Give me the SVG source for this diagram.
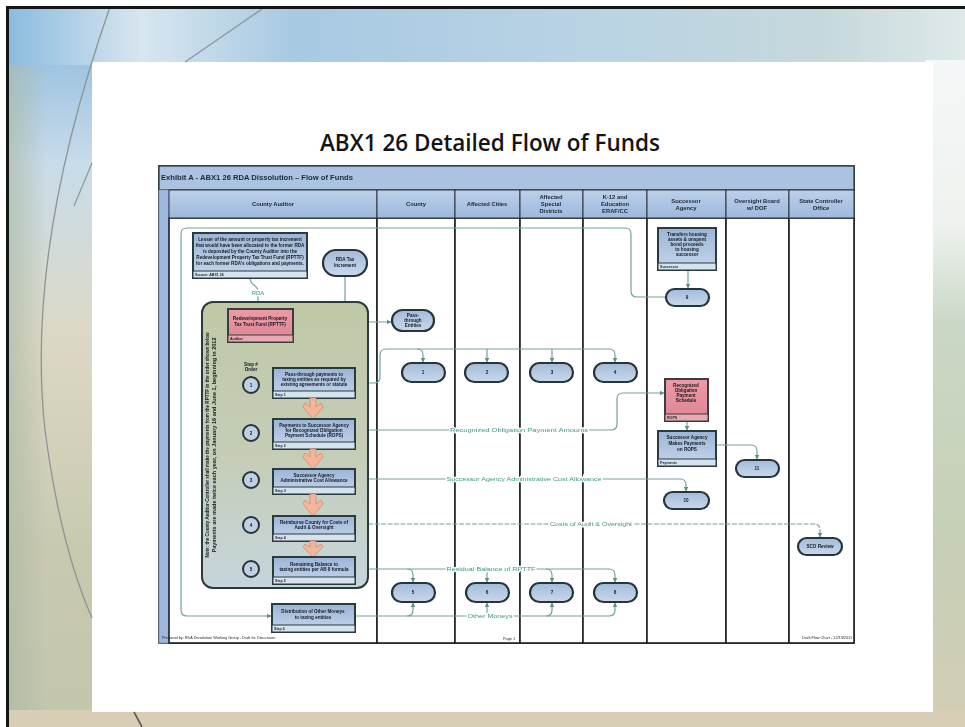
<svg xmlns="http://www.w3.org/2000/svg" width="965" height="727" viewBox="0 0 965 727">
  <defs>
    <linearGradient id="leftG" x1="0" y1="0" x2="0" y2="1">
      <stop offset="0" stop-color="#86b6dc"/>
      <stop offset="0.22" stop-color="#c9dcea"/>
      <stop offset="0.45" stop-color="#dcd8c6"/>
      <stop offset="0.75" stop-color="#c9c9b0"/>
      <stop offset="1" stop-color="#c3c5ad"/>
    </linearGradient>
    <linearGradient id="leftEdgeG" x1="0" y1="0" x2="1" y2="0">
      <stop offset="0" stop-color="#a9b9a4" stop-opacity="0.7"/>
      <stop offset="1" stop-color="#a9b9a4" stop-opacity="0"/>
    </linearGradient>
    <linearGradient id="topG" x1="0" y1="0" x2="1" y2="0">
      <stop offset="0" stop-color="#8bbadf"/>
      <stop offset="0.14" stop-color="#d7e6ef"/>
      <stop offset="0.3" stop-color="#a7c9e2"/>
      <stop offset="0.6" stop-color="#b9d3e4"/>
      <stop offset="0.85" stop-color="#c5d8dc"/>
      <stop offset="1" stop-color="#dfe9ea"/>
    </linearGradient>
    <linearGradient id="rightG" x1="0" y1="0" x2="0" y2="1">
      <stop offset="0" stop-color="#f4f7f7"/>
      <stop offset="0.25" stop-color="#eef2ee"/>
      <stop offset="0.4" stop-color="#cbd7c6"/>
      <stop offset="0.75" stop-color="#c6cfb5"/>
      <stop offset="1" stop-color="#d3ceb6"/>
    </linearGradient>
    <linearGradient id="hdrG" x1="0" y1="0" x2="0" y2="1">
      <stop offset="0" stop-color="#bcd0e9"/>
      <stop offset="1" stop-color="#9db9de"/>
    </linearGradient>
    <linearGradient id="boxG" x1="0" y1="0" x2="0" y2="1">
      <stop offset="0" stop-color="#9bb5d7"/>
      <stop offset="1" stop-color="#c6d6eb"/>
    </linearGradient>
    <linearGradient id="ovalG" x1="0" y1="0" x2="0" y2="1">
      <stop offset="0" stop-color="#a3bbd9"/>
      <stop offset="1" stop-color="#c8d8ec"/>
    </linearGradient>
    <linearGradient id="pinkG" x1="0" y1="0" x2="0" y2="1">
      <stop offset="0" stop-color="#ee9aa5"/>
      <stop offset="1" stop-color="#dc8593"/>
    </linearGradient>
    <linearGradient id="grpG" x1="0" y1="0" x2="0" y2="1">
      <stop offset="0" stop-color="#bfc8a6"/>
      <stop offset="0.55" stop-color="#c5cdb8"/>
      <stop offset="1" stop-color="#c6d5dc"/>
    </linearGradient>
    <!-- the printed chart is soft, so the chart layer gets a light blur -->
    <filter id="soft" x="-2%" y="-2%" width="104%" height="104%">
      <feGaussianBlur stdDeviation="0.4"/>
    </filter>
    <marker id="arr" viewBox="0 0 6 6" refX="5.5" refY="3" markerWidth="4" markerHeight="4" orient="auto">
      <path d="M0,0 L6,3 L0,6 z" fill="#5e8f87"/>
    </marker>
    <style>
      .lane{fill:#ffffff;stroke:#1d2224;stroke-width:1.6}
      .hdr{fill:url(#hdrG);stroke:#2a3338;stroke-width:1}
      .hdrt{font-family:"Liberation Sans",Arial,sans-serif;font-size:5.8px;font-weight:bold;fill:#1c2633;text-anchor:middle}
      .box{fill:url(#boxG);stroke:#2b3a3d;stroke-width:2}
      .pink{fill:url(#pinkG);stroke:#3b3e3f;stroke-width:2}
      .foot{fill:#d7e2ef;stroke:#2b3a3d;stroke-width:1}
      .pfoot{fill:#e9a9b2;stroke:#3b3e3f;stroke-width:1}
      .bt{font-family:"Liberation Sans",Arial,sans-serif;font-size:4.6px;font-weight:bold;fill:#141a20;text-anchor:middle}
      .ft{font-family:"Liberation Sans",Arial,sans-serif;font-size:3.6px;font-weight:bold;fill:#1a2228;text-anchor:start}
      .oval{fill:url(#ovalG);stroke:#27353a;stroke-width:2.2}
      .num{fill:#bfd0e3;stroke:#27353a;stroke-width:2}
      .conn{fill:none;stroke:#74a29a;stroke-width:1.2}
      .dash{stroke-dasharray:5 1.5}
      .lbl{font-family:"Liberation Sans",Arial,sans-serif;font-size:6px;fill:#3d9689;text-anchor:middle;stroke:#ffffff;stroke-width:2.5px;paint-order:stroke}
      .step{fill:#f3b59c;stroke:#d48a6c;stroke-width:0.8}
      .foottxt{font-family:"Liberation Sans",Arial,sans-serif;font-size:3.8px;fill:#1d2226}
    </style>
  </defs>

  <!-- slide background -->
  <g id="slide-background">
    <rect x="0" y="0" width="965" height="727" fill="#e6e1cf"/>
    <rect x="7" y="7" width="90" height="720" fill="url(#leftG)"/>
    <rect x="7" y="7" width="40" height="720" fill="url(#leftEdgeG)"/>
    <rect x="7" y="7" width="958" height="58" fill="url(#topG)"/>
    <rect x="925" y="60" width="40" height="660" fill="url(#rightG)"/>
    <rect x="7" y="710" width="958" height="17" fill="#d8cdb5"/>
    <rect x="92" y="62" width="841" height="650" fill="#ffffff"/>
    <path d="M110,7 Q25,250 45,430 Q60,545 92,618" fill="none" stroke="#8b9592" stroke-width="1.3"/>
    <path d="M262,9 L185,62" fill="none" stroke="#8f9a9c" stroke-width="1.5"/>
    <path d="M92,163 L74,206" fill="none" stroke="#8f9a9c" stroke-width="1.3"/>
    <path d="M134,712 L142,727" fill="none" stroke="#5a5a55" stroke-width="1.6"/>
    <rect x="0" y="0" width="965" height="6" fill="#ffffff"/>
    <rect x="0" y="0" width="6" height="727" fill="#ffffff"/>
    <line x1="6" y1="7.5" x2="965" y2="7.5" stroke="#141616" stroke-width="3"/>
    <line x1="7.5" y1="6" x2="7.5" y2="727" stroke="#141616" stroke-width="3"/>
  </g>

  <!-- slide title -->
  <text x="490" y="151" font-family="'Open Sans','Noto Sans',sans-serif" font-size="23" font-weight="600" fill="#141414" text-anchor="middle" textLength="340" lengthAdjust="spacingAndGlyphs">ABX1 26 Detailed Flow of Funds</text>

  <g id="chart" filter="url(#soft)">
  <!-- swimlane frame -->
  <g id="lanes">
    <rect x="159" y="166" width="695" height="477" fill="#ffffff" stroke="#2a3136" stroke-width="1.6"/>
    <rect x="159" y="166" width="695" height="24" fill="#a9c3e1" stroke="#2a3136" stroke-width="1.2"/>
    <text x="161" y="180" font-family="'Liberation Sans',Arial,sans-serif" font-size="7" font-weight="bold" fill="#1f2a35" textLength="192" lengthAdjust="spacingAndGlyphs">Exhibit A - ABX1 26 RDA Dissolution – Flow of Funds</text>
    <rect x="159" y="190" width="10" height="453" fill="#9db8dc" stroke="#6f87a8" stroke-width="0.6"/>
    <rect class="lane" x="169" y="218" width="208" height="425"/>
    <rect class="lane" x="377" y="218" width="78" height="425"/>
    <rect class="lane" x="455" y="218" width="65" height="425"/>
    <rect class="lane" x="520" y="218" width="63" height="425"/>
    <rect class="lane" x="583" y="218" width="64" height="425"/>
    <rect class="lane" x="647" y="218" width="79" height="425"/>
    <rect class="lane" x="726" y="218" width="63" height="425"/>
    <rect class="lane" x="789" y="218" width="65" height="425"/>
    <rect class="hdr" x="169" y="190" width="208" height="28"/>
    <rect class="hdr" x="377" y="190" width="78" height="28"/>
    <rect class="hdr" x="455" y="190" width="65" height="28"/>
    <rect class="hdr" x="520" y="190" width="63" height="28"/>
    <rect class="hdr" x="583" y="190" width="64" height="28"/>
    <rect class="hdr" x="647" y="190" width="79" height="28"/>
    <rect class="hdr" x="726" y="190" width="63" height="28"/>
    <rect class="hdr" x="789" y="190" width="65" height="28"/>
    <text class="hdrt" x="273" y="206">County Auditor</text>
    <text class="hdrt" x="416" y="206">County</text>
    <text class="hdrt" x="487" y="206">Affected Cities</text>
    <text class="hdrt" x="551" y="199">Affected</text>
    <text class="hdrt" x="551" y="206">Special</text>
    <text class="hdrt" x="551" y="213">Districts</text>
    <text class="hdrt" x="615" y="199">K-12 and</text>
    <text class="hdrt" x="615" y="206">Education</text>
    <text class="hdrt" x="615" y="213">ERAF/CC</text>
    <text class="hdrt" x="686" y="203">Successor</text>
    <text class="hdrt" x="686" y="210">Agency</text>
    <text class="hdrt" x="757" y="203">Oversight Board</text>
    <text class="hdrt" x="757" y="210">w/ DOF</text>
    <text class="hdrt" x="821" y="203">State Controller</text>
    <text class="hdrt" x="821" y="210">Office</text>
    <text class="foottxt" x="162" y="639">Prepared by: RDA Dissolution Working Group - Draft for Discussion</text>
    <text class="foottxt" x="503" y="640">Page 1</text>
    <text class="foottxt" x="852" y="639" text-anchor="end">Draft Flow Chart - 12/13/2011</text>
  </g>

  <!-- connectors -->
  <g id="connectors">
    <path class="conn" d="M666,297 H637 Q631,297 631,291 V234 Q631,228 625,228 H187 Q181,228 181,234 V610 Q181,616 187,616 H271" marker-end="url(#arr)"/>
    <path class="conn" d="M688,270 V288" marker-end="url(#arr)"/>
    <path class="conn" d="M250,278 C250,286 258,284 258,292 V308" marker-end="url(#arr)"/>
    <path class="conn" d="M345,276 V316 Q345,322 339,322"/>
    <path class="conn" d="M293,322 H391" marker-end="url(#arr)"/>
    <path class="conn" d="M313,322 V367" marker-end="url(#arr)"/>
    <path class="conn" d="M355,383 H374 Q380,383 380,377 V355 Q380,349 386,349 H609 Q615,349 615,355 V362" marker-end="url(#arr)"/>
    <path class="conn" d="M417,349 Q423,349 423,355 V362" marker-end="url(#arr)"/>
    <path class="conn" d="M487,349 V362" marker-end="url(#arr)"/>
    <path class="conn" d="M552,349 V362" marker-end="url(#arr)"/>
    <path class="conn" d="M355,430 H611 Q617,430 617,424 V399 Q617,393 623,393 H664" marker-end="url(#arr)"/>
    <path class="conn" d="M687,421 V430" marker-end="url(#arr)"/>
    <path class="conn" d="M716,445 H751 Q757,445 757,451 V459" marker-end="url(#arr)"/>
    <path class="conn" d="M355,479 H680 Q686,479 686,485 V491" marker-end="url(#arr)"/>
    <path class="conn dash" d="M355,524 H814 Q820,524 820,530 V537" marker-end="url(#arr)"/>
    <path class="conn" d="M355,569 H609 Q615,569 615,575 V582" marker-end="url(#arr)"/>
    <path class="conn" d="M407,569 Q413,569 413,575 V582" marker-end="url(#arr)"/>
    <path class="conn" d="M487,569 V582" marker-end="url(#arr)"/>
    <path class="conn" d="M546,569 Q552,569 552,575 V582" marker-end="url(#arr)"/>
    <path class="conn" d="M355,616 H609 Q615,616 615,610 V603" marker-end="url(#arr)"/>
    <path class="conn" d="M407,616 Q413,616 413,610 V603" marker-end="url(#arr)"/>
    <path class="conn" d="M487,616 V603" marker-end="url(#arr)"/>
    <path class="conn" d="M546,616 Q552,616 552,610 V603" marker-end="url(#arr)"/>
    <text class="lbl" x="258" y="295" font-size="5">RDA</text>
    <text class="lbl" x="313" y="340" font-size="5">RPTTF</text>
    <text class="lbl" x="519" y="432" textLength="138" lengthAdjust="spacingAndGlyphs">Recognized Obligation Payment Amounts</text>
    <text class="lbl" x="524" y="481" textLength="155" lengthAdjust="spacingAndGlyphs">Successor Agency Administrative Cost Allowance</text>
    <text class="lbl" x="591" y="526" textLength="82" lengthAdjust="spacingAndGlyphs">Costs of Audit &amp; Oversight</text>
    <text class="lbl" x="491" y="571" textLength="89" lengthAdjust="spacingAndGlyphs">Residual Balance of RPTTF</text>
    <text class="lbl" x="490" y="618" textLength="45" lengthAdjust="spacingAndGlyphs">Other Moneys</text>
  </g>

  <!-- auditor: deposit note -->
  <g id="deposit-note">
    <rect class="box" x="193" y="233" width="114" height="45"/>
    <rect class="foot" x="193" y="271" width="114" height="7"/>
    <text class="bt" x="250" y="241">Lesser of the amount or property tax increment</text>
    <text class="bt" x="250" y="247">that would have been allocated to the former RDA</text>
    <text class="bt" x="250" y="253">is deposited by the County Auditor into the</text>
    <text class="bt" x="250" y="259">Redevelopment Property Tax Trust Fund (RPTTF)</text>
    <text class="bt" x="250" y="265">for each former RDA's obligations and payments.</text>
    <text class="ft" x="195" y="276">Source: ABX1 26</text>
  </g>

  <g id="increment-source">
    <rect class="oval" x="323" y="250" width="44" height="26" rx="13"/>
    <text class="bt" x="345" y="261">RDA Tax</text>
    <text class="bt" x="345" y="267">Increment</text>
  </g>

  <!-- auditor: RPTTF distribution group -->
  <g id="rpttf-group">
    <rect x="202" y="302" width="166" height="286" rx="11" fill="url(#grpG)" stroke="#2b3a3d" stroke-width="2"/>
    <text class="bt" transform="translate(209,445) rotate(-90)" textLength="225" lengthAdjust="spacingAndGlyphs">Note: the County Auditor-Controller shall make the payments from the RPTTF in the order shown below</text>
    <text class="bt" transform="translate(216,445) rotate(-90)" textLength="215" lengthAdjust="spacingAndGlyphs">Payments are made twice each year, on January 16 and June 1, beginning in 2012</text>
    <text class="bt" x="251" y="366" font-size="4">Step #</text>
    <text class="bt" x="251" y="371" font-size="4">Order</text>
  </g>

  <g id="rpttf-fund">
    <rect class="pink" x="228" y="309" width="65" height="33"/>
    <rect class="pfoot" x="228" y="335" width="65" height="7"/>
    <text class="bt" x="260" y="320">Redevelopment Property</text>
    <text class="bt" x="260" y="326">Tax Trust Fund (RPTTF)</text>
    <text class="ft" x="230" y="340">Auditor</text>
  </g>

  <g id="pass-through-entities">
    <rect class="oval" x="392" y="310" width="42" height="21" rx="10.5"/>
    <text class="bt" x="413" y="317" font-size="3.8">Pass-</text>
    <text class="bt" x="413" y="322" font-size="3.8">through</text>
    <text class="bt" x="413" y="327" font-size="3.8">Entities</text>
  </g>

  <g id="step-1">
    <circle class="num" cx="251" cy="385" r="8"/>
    <text class="bt" x="251" y="387" font-size="5">1</text>
    <rect class="box" x="273" y="368" width="82" height="30"/>
    <rect class="foot" x="273" y="391" width="82" height="7"/>
    <text class="bt" x="314" y="376">Pass-through payments to</text>
    <text class="bt" x="314" y="381">taxing entities as required by</text>
    <text class="bt" x="314" y="386">existing agreements or statute</text>
    <text class="ft" x="275" y="396">Step 1</text>
  </g>
  <path class="step" d="M310,398 H316 V407 L321,403 L323,407 L313,419 L303,407 L305,403 L310,407 Z"/>

  <g id="step-2">
    <circle class="num" cx="251" cy="433" r="8"/>
    <text class="bt" x="251" y="435" font-size="5">2</text>
    <rect class="box" x="273" y="419" width="82" height="30"/>
    <rect class="foot" x="273" y="442" width="82" height="7"/>
    <text class="bt" x="314" y="427">Payments to Successor Agency</text>
    <text class="bt" x="314" y="432">for Recognized Obligation</text>
    <text class="bt" x="314" y="437">Payment Schedule (ROPS)</text>
    <text class="ft" x="275" y="447">Step 2</text>
  </g>
  <path class="step" d="M310,449 H316 V457 L321,453 L323,457 L313,469 L303,457 L305,453 L310,457 Z"/>

  <g id="step-3">
    <circle class="num" cx="251" cy="480" r="8"/>
    <text class="bt" x="251" y="482" font-size="5">3</text>
    <rect class="box" x="273" y="469" width="82" height="25"/>
    <rect class="foot" x="273" y="487" width="82" height="7"/>
    <text class="bt" x="314" y="477">Successor Agency</text>
    <text class="bt" x="314" y="482">Administrative Cost Allowance</text>
    <text class="ft" x="275" y="492">Step 3</text>
  </g>
  <path class="step" d="M310,494 H316 V504 L321,500 L323,504 L313,516 L303,504 L305,500 L310,504 Z"/>

  <g id="step-4">
    <circle class="num" cx="251" cy="525" r="8"/>
    <text class="bt" x="251" y="527" font-size="5">4</text>
    <rect class="box" x="273" y="516" width="82" height="25"/>
    <rect class="foot" x="273" y="534" width="82" height="7"/>
    <text class="bt" x="314" y="524">Reimburse County for Costs of</text>
    <text class="bt" x="314" y="529">Audit &amp; Oversight</text>
    <text class="ft" x="275" y="539">Step 4</text>
  </g>
  <path class="step" d="M310,541 H316 V547 L321,544 L323,547 L313,557 L303,547 L305,544 L310,547 Z"/>

  <g id="step-5">
    <circle class="num" cx="251" cy="569" r="8"/>
    <text class="bt" x="251" y="571" font-size="5">5</text>
    <rect class="box" x="273" y="557" width="82" height="27"/>
    <rect class="foot" x="273" y="577" width="82" height="7"/>
    <text class="bt" x="314" y="566">Remaining Balance to</text>
    <text class="bt" x="314" y="571">taxing entities per AB 8 formula</text>
    <text class="ft" x="275" y="582">Step 5</text>
  </g>

  <g id="other-moneys">
    <rect class="box" x="272" y="604" width="83" height="28"/>
    <rect class="foot" x="272" y="625" width="83" height="7"/>
    <text class="bt" x="313" y="613">Distribution of Other Moneys</text>
    <text class="bt" x="313" y="619">to taxing entities</text>
    <text class="ft" x="274" y="630">Step 6</text>
  </g>

  <!-- recipient terminals, first row -->
  <g id="county-pass-through"><rect class="oval" x="402" y="363" width="43" height="19" rx="9.5"/><text class="bt" x="423" y="374">1</text></g>
  <g id="cities-pass-through"><rect class="oval" x="465" y="363" width="43" height="19" rx="9.5"/><text class="bt" x="487" y="374">2</text></g>
  <g id="districts-pass-through"><rect class="oval" x="530" y="363" width="43" height="19" rx="9.5"/><text class="bt" x="552" y="374">3</text></g>
  <g id="schools-pass-through"><rect class="oval" x="594" y="363" width="43" height="19" rx="9.5"/><text class="bt" x="615" y="374">4</text></g>

  <!-- recipient terminals, residual row -->
  <g id="county-residual"><rect class="oval" x="392" y="583" width="43" height="19" rx="9.5"/><text class="bt" x="413" y="594">5</text></g>
  <g id="cities-residual"><rect class="oval" x="466" y="583" width="43" height="19" rx="9.5"/><text class="bt" x="487" y="594">6</text></g>
  <g id="districts-residual"><rect class="oval" x="530" y="583" width="43" height="19" rx="9.5"/><text class="bt" x="552" y="594">7</text></g>
  <g id="schools-residual"><rect class="oval" x="594" y="583" width="43" height="19" rx="9.5"/><text class="bt" x="615" y="594">8</text></g>

  <!-- successor agency -->
  <g id="housing-transfer">
    <rect class="box" x="658" y="228" width="58" height="42"/>
    <rect class="foot" x="658" y="263" width="58" height="7"/>
    <text class="bt" x="687" y="236">Transfers housing</text>
    <text class="bt" x="687" y="241">assets &amp; unspent</text>
    <text class="bt" x="687" y="246">bond proceeds</text>
    <text class="bt" x="687" y="251">to housing</text>
    <text class="bt" x="687" y="256">successor</text>
    <text class="ft" x="660" y="268">Successor</text>
  </g>
  <g id="successor-terminal"><rect class="oval" x="666" y="289" width="43" height="17" rx="8.5"/><text class="bt" x="687" y="299">9</text></g>

  <g id="rops">
    <rect class="pink" x="665" y="379" width="43" height="42"/>
    <rect class="pfoot" x="665" y="414" width="43" height="7"/>
    <text class="bt" x="686" y="387">Recognized</text>
    <text class="bt" x="686" y="392">Obligation</text>
    <text class="bt" x="686" y="397">Payment</text>
    <text class="bt" x="686" y="402">Schedule</text>
    <text class="ft" x="667" y="419">ROPS</text>
  </g>
  <g id="rops-payments">
    <rect class="box" x="658" y="431" width="58" height="35"/>
    <rect class="foot" x="658" y="459" width="58" height="7"/>
    <text class="bt" x="687" y="439">Successor Agency</text>
    <text class="bt" x="687" y="445">Makes Payments</text>
    <text class="bt" x="687" y="451">on ROPS</text>
    <text class="ft" x="660" y="464">Payments</text>
  </g>
  <g id="admin-terminal"><rect class="oval" x="664" y="492" width="45" height="17" rx="8.5"/><text class="bt" x="686" y="502">10</text></g>

  <!-- oversight board and state controller -->
  <g id="oversight-terminal"><rect class="oval" x="736" y="460" width="43" height="17" rx="8.5"/><text class="bt" x="757" y="470">11</text></g>
  <g id="controller-terminal"><rect class="oval" x="798" y="538" width="44" height="17" rx="8.5"/><text class="bt" x="820" y="548">SCO Review</text></g>
  </g>
</svg>
